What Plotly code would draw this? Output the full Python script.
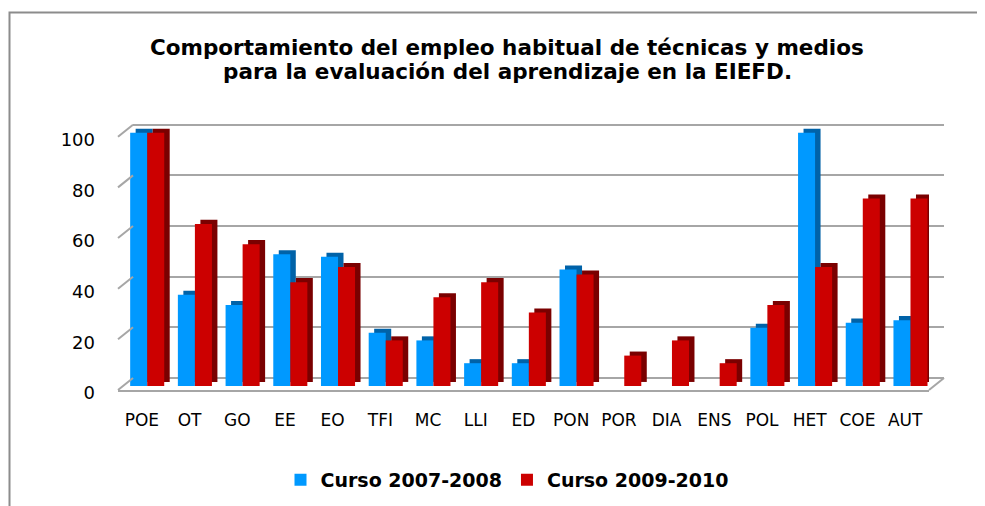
import plotly.graph_objects as go

# ---------------- data ----------------
categories = ["POE", "OT", "GO", "EE", "EO", "TFI", "MC", "LLI", "ED", "PON",
              "POR", "DIA", "ENS", "POL", "HET", "COE", "AUT"]
curso_2007_2008 = [100, 36, 32, 52, 51, 21, 18, 9, 9, 46, 0, 0, 0, 23, 100, 25, 26]
curso_2009_2010 = [100, 64, 56, 41, 47, 18, 35, 41, 29, 44, 12, 18, 9, 32, 47, 74, 74]
y_ticks = [0, 20, 40, 60, 80, 100]
series_names = ["Curso 2007-2008", "Curso 2009-2010"]
title_lines = ["Comportamiento del empleo habitual de técnicas y medios",
               "para la evaluación del aprendizaje en la EIEFD."]

# ---------------- geometry / style ----------------
PAGE_OFF = 8                    # default body margin of the html page
W, H = 985 - PAGE_OFF, 506 - PAGE_OFF
L = 118 - PAGE_OFF
T = 112 - PAGE_OFF
R = W - (944 - PAGE_OFF)
B = H - (390 - PAGE_OFF)
PW, PH = W - L - R, H - T - B
K = 2.533                       # px per unit
DEPTH_X, DEPTH_Y = 15, 12       # back-wall shift (px)
Y_RANGE = [-4 / K, 266 / K]

BLUE, BLUE_SIDE = "#0099ff", "#0062a8"
RED, RED_SIDE = "#cc0000", "#7a0000"
GRID = "#a6a6a6"
FONT = "DejaVu Sans"

BAR_W = 0.357
OFFSETS = [-0.245, 0.112]
SIDE_DX = 0.115
SIDE_BASE = 1.6

fig = go.Figure()

# invisible trace for the back-wall (grid) subplot
fig.add_trace(go.Scatter(x=categories, y=curso_2007_2008, mode="markers",
                         marker=dict(opacity=0), hoverinfo="skip",
                         showlegend=False, xaxis="x", yaxis="y"))

for vals, name, col, side, off in [
    (curso_2007_2008, series_names[0], BLUE, BLUE_SIDE, OFFSETS[0]),
    (curso_2009_2010, series_names[1], RED, RED_SIDE, OFFSETS[1]),
]:
    # 3D side/top face
    fig.add_trace(go.Bar(x=categories, y=vals, base=SIDE_BASE, width=BAR_W,
                         offset=off + SIDE_DX, marker=dict(color=side, line=dict(width=0)),
                         hoverinfo="skip", showlegend=False, xaxis="x2", yaxis="y2"))
    # front face
    fig.add_trace(go.Bar(x=categories, y=vals, name=name, width=BAR_W, offset=off,
                         marker=dict(color=col, line=dict(width=0)),
                         xaxis="x2", yaxis="y2"))

shapes = []
# diagonal connectors on the left wall
for v in y_ticks:
    fy = K * v / PH
    by = (DEPTH_Y + K * v) / PH
    shapes.append(dict(type="line", xref="paper", yref="paper",
                       x0=0, y0=fy, x1=DEPTH_X / PW, y1=by,
                       line=dict(color=GRID, width=2)))
# right floor diagonal
shapes.append(dict(type="line", xref="paper", yref="paper",
                   x0=(PW - DEPTH_X) / PW, y0=0, x1=1, y1=DEPTH_Y / PH,
                   line=dict(color=GRID, width=2)))
# outer chart border
shapes.append(dict(type="rect", xref="paper", yref="paper",
                   x0=(9.5 - 118) / PW, x1=(1000 - 118) / PW,
                   y0=(390 - 530) / PH, y1=(390 - 12.5) / PH,
                   line=dict(color="#8c8c8c", width=2), fillcolor="rgba(0,0,0,0)",
                   layer="below"))

# two-line title as annotations (tighter line spacing than a <br> title)
title_font = dict(family=FONT, size=21.5, color="black", weight="bold")
annotations = []
for line, cy in zip(title_lines, [47.5, 71.5]):
    annotations.append(dict(text=line, xref="paper", yref="paper",
                            x=(507 - 118) / PW, y=(390 - cy) / PH,
                            xanchor="center", yanchor="middle", showarrow=False,
                            font=title_font))

fig.update_layout(
    width=W, height=H,
    margin=dict(l=L, r=R, t=T, b=B, pad=0, autoexpand=False),
    paper_bgcolor="white", plot_bgcolor="rgba(0,0,0,0)",
    barmode="overlay",
    font=dict(family=FONT, color="black"),
    # back wall (grid)
    xaxis=dict(domain=[DEPTH_X / PW, 1], range=[-0.5, len(categories) - 0.5],
               showgrid=False, showticklabels=False, zeroline=False, showline=False,
               automargin=False, anchor="y"),
    yaxis=dict(domain=[(DEPTH_Y - 4) / PH, 1], range=Y_RANGE, tickvals=y_ticks,
               showgrid=True, gridcolor=GRID, gridwidth=2,
               showticklabels=False, zeroline=False, showline=False,
               automargin=False, anchor="x"),
    # front (bars + labels)
    xaxis2=dict(domain=[0, (PW - DEPTH_X) / PW], range=[-0.5, len(categories) - 0.5],
                showgrid=False, zeroline=False, showline=True, linecolor=GRID,
                linewidth=2, ticks="", tickfont=dict(family=FONT, size=17, color="black"),
                ticklabelstandoff=14, automargin=False, anchor="y2"),
    yaxis2=dict(domain=[0, (PH - 8) / PH], range=Y_RANGE, tickvals=y_ticks,
                showgrid=False, zeroline=False, showline=False, ticks="",
                tickfont=dict(family=FONT, size=18, color="black"),
                ticklabelstandoff=22, ticklabelshift=7, automargin=False, anchor="x2"),
    legend=dict(orientation="h", x=(507 - 118) / PW, xanchor="center",
                y=(390 - 480) / PH, yanchor="middle",
                font=dict(family=FONT, size=19, color="black", weight="bold"),
                traceorder="normal", bgcolor="rgba(0,0,0,0)"),
    shapes=shapes,
    annotations=annotations,
    showlegend=True,
)

fig.write_html("out.html")
